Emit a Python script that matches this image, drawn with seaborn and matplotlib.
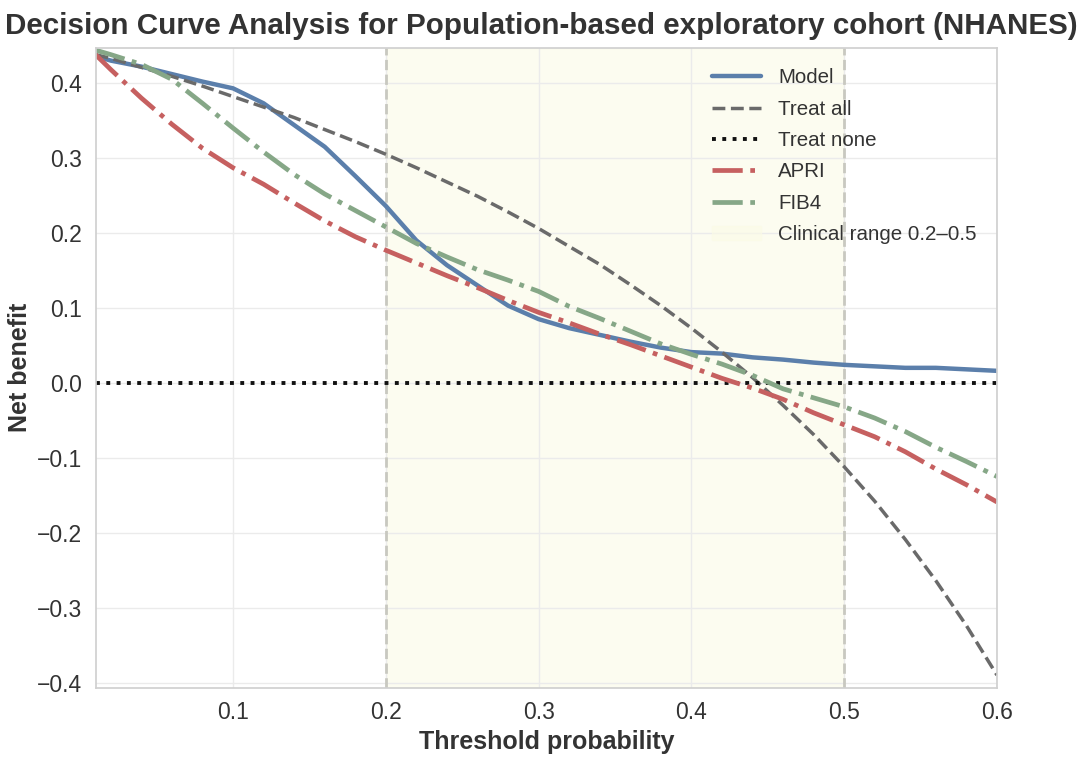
import numpy as np
import pandas as pd
import matplotlib
matplotlib.use("Agg")
import matplotlib.pyplot as plt
import seaborn as sns

# threshold grid and net benefit
thresholds = [0.01, 0.02, 0.04, 0.06, 0.08, 0.10, 0.12, 0.14, 0.16, 0.18, 0.20,
              0.22, 0.24, 0.26, 0.28, 0.30, 0.32, 0.34, 0.36, 0.38, 0.40,
              0.42, 0.44, 0.46, 0.48, 0.50, 0.52, 0.54, 0.56, 0.58, 0.60]

model_nb = [0.436, 0.430, 0.422, 0.412, 0.402, 0.393, 0.373, 0.344, 0.315, 0.276, 0.236,
            0.190, 0.157, 0.130, 0.103, 0.085, 0.073, 0.064, 0.055, 0.047, 0.041,
            0.039, 0.034, 0.031, 0.027, 0.024, 0.022, 0.020, 0.020, 0.018, 0.016]

treat_all_nb = [0.438, 0.433, 0.421, 0.409, 0.396, 0.382, 0.368, 0.354, 0.338, 0.322, 0.305,
                0.287, 0.268, 0.249, 0.228, 0.206, 0.182, 0.158, 0.131, 0.103, 0.073,
                0.041, 0.007, -0.030, -0.069, -0.112, -0.158, -0.209, -0.264, -0.324, -0.390]

treat_none_nb = [0.0] * len(thresholds)

apri_nb = [0.438, 0.418, 0.380, 0.345, 0.313, 0.287, 0.265, 0.240, 0.216, 0.195, 0.177,
           0.160, 0.143, 0.127, 0.110, 0.094, 0.080, 0.065, 0.051, 0.036, 0.021,
           0.006, -0.007, -0.022, -0.040, -0.056, -0.072, -0.092, -0.115, -0.136, -0.159]

fib4_nb = [0.444, 0.438, 0.425, 0.405, 0.373, 0.340, 0.308, 0.278, 0.252, 0.230, 0.208,
           0.186, 0.168, 0.151, 0.137, 0.122, 0.102, 0.086, 0.069, 0.052, 0.038,
           0.025, 0.010, -0.008, -0.020, -0.032, -0.047, -0.065, -0.086, -0.105, -0.125]

clinical_range = (0.2, 0.5)

df = pd.DataFrame({
    "threshold": thresholds,
    "Model": model_nb,
    "Treat all": treat_all_nb,
    "Treat none": treat_none_nb,
    "APRI": apri_nb,
    "FIB4": fib4_nb,
})

sns.set_theme(style="whitegrid")
plt.rcParams["font.family"] = ["Liberation Sans", "DejaVu Sans"]
plt.rcParams["axes.edgecolor"] = "#d0d0d0"
plt.rcParams["grid.color"] = "#ebebeb"

fig, ax = plt.subplots(figsize=(10.86, 7.6), dpi=100)
fig.subplots_adjust(left=0.088, right=0.918, top=0.937, bottom=0.095)

ax.axvspan(*clinical_range, color="#fbfbe6", alpha=0.6, zorder=0,
           label="Clinical range 0.2\u20130.5")
for xv in clinical_range:
    ax.axvline(xv, color="#c8c8c0", ls="--", lw=2, zorder=1)

sns.lineplot(data=df, x="threshold", y="Model", ax=ax, color="#5b7fab",
             lw=3.2, label="Model")
sns.lineplot(data=df, x="threshold", y="Treat all", ax=ax, color="#6a6a6a",
             lw=2.5, ls="--", label="Treat all")
sns.lineplot(data=df, x="threshold", y="Treat none", ax=ax, color="#111111",
             lw=2.8, ls=":", label="Treat none")
sns.lineplot(data=df, x="threshold", y="APRI", ax=ax, color="#c66060",
             lw=3.4, ls="-.", label="APRI")
sns.lineplot(data=df, x="threshold", y="FIB4", ax=ax, color="#86a787",
             lw=3.4, ls="-.", label="FIB4")

ax.set_xlim(0.01, 0.6)
ax.set_ylim(-0.407, 0.447)
ax.set_xticks([0.1, 0.2, 0.3, 0.4, 0.5, 0.6])
ax.set_yticks([-0.4, -0.3, -0.2, -0.1, 0.0, 0.1, 0.2, 0.3, 0.4])
ax.set_xticklabels(["0.1", "0.2", "0.3", "0.4", "0.5", "0.6"])
ax.set_yticklabels(["\u22120.4", "\u22120.3", "\u22120.2", "\u22120.1", "0.0",
                    "0.1", "0.2", "0.3", "0.4"])
ax.tick_params(labelsize=16.5, labelcolor="#333333")

ax.set_xlabel("Threshold probability", fontsize=18, fontweight="bold", color="#333333")
ax.set_ylabel("Net benefit", fontsize=18, fontweight="bold", color="#333333")
ax.set_title("Decision Curve Analysis for Population-based exploratory cohort (NHANES)",
             fontsize=21.3, fontweight="bold", color="#333333", pad=10, x=0.495)

handles, labels = ax.get_legend_handles_labels()
order = ["Model", "Treat all", "Treat none", "APRI", "FIB4", "Clinical range 0.2\u20130.5"]
hmap = dict(zip(labels, handles))
ax.legend([hmap[k] for k in order], order, loc="upper right", fontsize=14.8,
          frameon=False, handlelength=2.4, borderaxespad=0.6, labelspacing=0.6,
          labelcolor="#333333")

fig.savefig("out.png", dpi=100)
